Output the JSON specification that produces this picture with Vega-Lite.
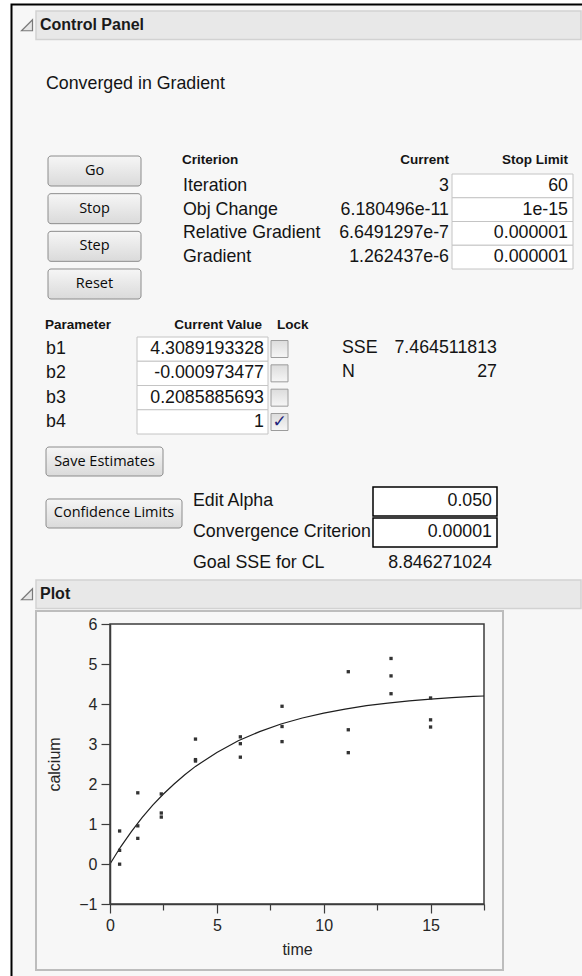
{
"$schema":"https://vega.github.io/schema/vega-lite/v6.json",
"width":374,"height":280,
"autosize":{"type":"none"},
"padding":{"left":110,"top":624,"right":98,"bottom":72},
"background":"#ffffff",
"config":{"font":"Liberation Sans","view":{"stroke":null},"text":{"baseline":"middle","color":"#141414","fontSize":17.8}},
"datasets":{
"report":[{"report":"Nonlinear Fit"}],
"sections":[{"section":"Control Panel"},{"section":"Plot"}],
"status":[{"status":"Converged in Gradient"}],
"buttons":[{"button":"Go"},{"button":"Stop"},{"button":"Step"},{"button":"Reset"}],
"actions":[{"action":"Save Estimates"},{"action":"Confidence Limits"}],
"criteriaColumns":[{"column":"Criterion"},{"column":"Current"},{"column":"Stop Limit"}],
"criteria":[{"criterion":"Iteration","current":"3","stopLimit":"60"},{"criterion":"Obj Change","current":"6.180496e-11","stopLimit":"1e-15"},{"criterion":"Relative Gradient","current":"6.6491297e-7","stopLimit":"0.000001"},{"criterion":"Gradient","current":"1.262437e-6","stopLimit":"0.000001"}],
"parameterColumns":[{"column":"Parameter"},{"column":"Current Value"},{"column":"Lock"}],
"parameters":[{"parameter":"b1","value":"4.3089193328","locked":false},{"parameter":"b2","value":"-0.000973477","locked":false},{"parameter":"b3","value":"0.2085885693","locked":false},{"parameter":"b4","value":"1","locked":true}],
"fitStats":[{"stat":"SSE","value":"7.464511813"},{"stat":"N","value":"27"}],
"clSettings":[{"setting":"Edit Alpha","value":"0.050","editable":true},{"setting":"Convergence Criterion","value":"0.00001","editable":true},{"setting":"Goal SSE for CL","value":"8.846271024","editable":false}],
"calcium":[
{"time":0.45,"calcium":0.3417},{"time":0.45,"calcium":-0.00438},{"time":0.45,"calcium":0.82531},
{"time":1.3,"calcium":1.77967},{"time":1.3,"calcium":0.95384},{"time":1.3,"calcium":0.6408},
{"time":2.4,"calcium":1.75136},{"time":2.4,"calcium":1.27497},{"time":2.4,"calcium":1.17332},
{"time":4.0,"calcium":3.12273},{"time":4.0,"calcium":2.60958},{"time":4.0,"calcium":2.57429},
{"time":6.1,"calcium":3.17881},{"time":6.1,"calcium":3.00782},{"time":6.1,"calcium":2.67061},
{"time":8.05,"calcium":3.05959},{"time":8.05,"calcium":3.94321},{"time":8.05,"calcium":3.43726},
{"time":11.15,"calcium":4.80735},{"time":11.15,"calcium":3.35583},{"time":11.15,"calcium":2.78309},
{"time":13.15,"calcium":5.13825},{"time":13.15,"calcium":4.70274},{"time":13.15,"calcium":4.25702},
{"time":15.0,"calcium":3.60407},{"time":15.0,"calcium":4.15029},{"time":15.0,"calcium":3.42484}],
"fit":[
{"time":0,"calcium":0.0},{"time":0.5,"calcium":0.43},{"time":1,"calcium":0.81},{"time":1.5,"calcium":1.16},{"time":2,"calcium":1.47},{"time":2.5,"calcium":1.75},{"time":3,"calcium":2.0},{"time":3.5,"calcium":2.23},{"time":4,"calcium":2.44},{"time":5,"calcium":2.79},{"time":6,"calcium":3.08},{"time":7,"calcium":3.31},{"time":8,"calcium":3.5},{"time":9,"calcium":3.65},{"time":10,"calcium":3.77},{"time":11,"calcium":3.87},{"time":12,"calcium":3.96},{"time":13,"calcium":4.02},{"time":14,"calcium":4.08},{"time":15,"calcium":4.12},{"time":16,"calcium":4.16},{"time":17,"calcium":4.19},{"time":17.5,"calcium":4.2}]
},
"resolve":{"scale":{"x":"independent","y":"independent"},"axis":{"x":"independent","y":"independent"}},
"layer":[
{"data":{"name":"report"},"mark":{"type":"rect","fill":"#f7f7f7","stroke":"#000000","strokeWidth":2},
 "encoding":{"x":{"field":"report","type":"nominal","scale":{"type":"band","range":[-98.5,490],"paddingInner":0,"paddingOuter":0},"axis":null},
 "y":{"field":"report","type":"nominal","scale":{"type":"band","range":[-619.5,376],"paddingInner":0,"paddingOuter":0},"axis":null}}},
{"data":{"name":"sections"},"mark":{"type":"rect","fill":"#e8e8e8","stroke":"#d2d2d2","strokeWidth":1.5},
 "encoding":{"x":{"datum":"bar","type":"nominal","scale":{"type":"band","range":[-74,471],"paddingInner":0,"paddingOuter":0},"axis":null},
 "y":{"field":"section","type":"nominal","scale":{"type":"band","domain":["Control Panel","Plot"],"range":[-613,-15.5],"paddingInner":0.94991,"paddingOuter":0},"axis":null}}},
{"data":{"name":"sections"},"mark":{"type":"point","shape":"M -1 1 L 1 1 L 1 -1 Z","size":121,"filled":true,"fill":"#e6e6e6","stroke":"#7a7a7a","strokeWidth":1.2,"opacity":1},
 "encoding":{"x":{"datum":"icon","type":"nominal","bandPosition":0.5,"scale":{"type":"band","range":[-89,-77],"paddingInner":0,"paddingOuter":0},"axis":null},
 "y":{"field":"section","type":"nominal","bandPosition":0.5,"scale":{"type":"band","domain":["Control Panel","Plot"],"range":[-613,-15.5],"paddingInner":0.94991,"paddingOuter":0},"axis":null}}},
{"data":{"name":"sections"},"mark":{"type":"text","align":"left","fontSize":16,"fontWeight":"bold","color":"#1a1a1a"},
 "encoding":{"text":{"field":"section","type":"nominal"},
 "x":{"datum":"title","type":"nominal","bandPosition":0,"scale":{"type":"band","range":[-70,190],"paddingInner":0,"paddingOuter":0},"axis":null},
 "y":{"field":"section","type":"nominal","bandPosition":0.5,"scale":{"type":"band","domain":["Control Panel","Plot"],"range":[-613,-15.5],"paddingInner":0.94991,"paddingOuter":0},"axis":null}}},
{"data":{"name":"sections"},"transform":[{"filter":"datum.section === 'Plot'"}],"mark":{"type":"rect","fill":"#f7f7f7","stroke":"#bdbdbd","strokeWidth":2},
 "encoding":{"x":{"field":"section","type":"nominal","scale":{"type":"band","range":[-74,393],"paddingInner":0,"paddingOuter":0},"axis":null},
 "y":{"field":"section","type":"nominal","scale":{"type":"band","range":[-13,346],"paddingInner":0,"paddingOuter":0},"axis":null}}},
{"data":{"name":"sections"},"transform":[{"filter":"datum.section === 'Plot'"}],"mark":{"type":"rect","fill":"#ffffff","stroke":"#3c3c3c","strokeWidth":1.5},
 "encoding":{"x":{"field":"section","type":"nominal","scale":{"type":"band","range":[0,374],"paddingInner":0,"paddingOuter":0},"axis":null},
 "y":{"field":"section","type":"nominal","scale":{"type":"band","range":[0,280],"paddingInner":0,"paddingOuter":0},"axis":null}}},
{"data":{"name":"status"},"mark":{"type":"text","align":"left"},
 "encoding":{"text":{"field":"status","type":"nominal"},
 "x":{"datum":"status","type":"nominal","bandPosition":0,"scale":{"type":"band","range":[-64,190],"paddingInner":0,"paddingOuter":0},"axis":null},
 "y":{"field":"status","type":"nominal","bandPosition":0.5,"scale":{"type":"band","range":[-552,-528],"paddingInner":0,"paddingOuter":0},"axis":null}}},
{"data":{"name":"buttons"},"mark":{"type":"rect","cornerRadius":3,"stroke":"#8c8c8c","strokeWidth":1,"fill":{"gradient":"linear","x1":0,"y1":0,"x2":0,"y2":1,"stops":[{"offset":0,"color":"#f6f6f6"},{"offset":1,"color":"#dadada"}]}},
 "encoding":{"x":{"datum":"run","type":"nominal","scale":{"type":"band","range":[-62,31],"paddingInner":0,"paddingOuter":0},"axis":null},
 "y":{"field":"button","type":"nominal","scale":{"type":"band","domain":["Go","Stop","Step","Reset"],"range":[-468,-325],"paddingInner":0.2035,"paddingOuter":0},"axis":null}}},
{"data":{"name":"buttons"},"mark":{"type":"text","align":"center","font":"Open Sans","fontSize":14.5,"color":"#0a0a0a"},
 "encoding":{"text":{"field":"button","type":"nominal"},
 "x":{"datum":"run","type":"nominal","bandPosition":0.5,"scale":{"type":"band","range":[-62,31],"paddingInner":0,"paddingOuter":0},"axis":null},
 "y":{"field":"button","type":"nominal","bandPosition":0.5,"scale":{"type":"band","domain":["Go","Stop","Step","Reset"],"range":[-468,-325],"paddingInner":0.2035,"paddingOuter":0},"axis":null}}},
{"data":{"name":"actions"},"transform":[{"filter":"datum.action === 'Save Estimates'"}],"mark":{"type":"rect","cornerRadius":3,"stroke":"#8c8c8c","strokeWidth":1,"fill":{"gradient":"linear","x1":0,"y1":0,"x2":0,"y2":1,"stops":[{"offset":0,"color":"#f6f6f6"},{"offset":1,"color":"#dadada"}]}},
 "encoding":{"x":{"datum":"save","type":"nominal","scale":{"type":"band","range":[-64,53],"paddingInner":0,"paddingOuter":0},"axis":null},
 "y":{"field":"action","type":"nominal","scale":{"type":"band","domain":["Save Estimates","Confidence Limits"],"range":[-177,-96],"paddingInner":0.4423,"paddingOuter":0},"axis":null}}},
{"data":{"name":"actions"},"transform":[{"filter":"datum.action === 'Save Estimates'"}],"mark":{"type":"text","align":"center","font":"Open Sans","fontSize":14.5,"color":"#0a0a0a"},
 "encoding":{"text":{"field":"action","type":"nominal"},
 "x":{"datum":"save","type":"nominal","bandPosition":0.5,"scale":{"type":"band","range":[-64,53],"paddingInner":0,"paddingOuter":0},"axis":null},
 "y":{"field":"action","type":"nominal","bandPosition":0.5,"scale":{"type":"band","domain":["Save Estimates","Confidence Limits"],"range":[-177,-96],"paddingInner":0.4423,"paddingOuter":0},"axis":null}}},
{"data":{"name":"actions"},"transform":[{"filter":"datum.action === 'Confidence Limits'"}],"mark":{"type":"rect","cornerRadius":3,"stroke":"#8c8c8c","strokeWidth":1,"fill":{"gradient":"linear","x1":0,"y1":0,"x2":0,"y2":1,"stops":[{"offset":0,"color":"#f6f6f6"},{"offset":1,"color":"#dadada"}]}},
 "encoding":{"x":{"datum":"cl","type":"nominal","scale":{"type":"band","range":[-64,72],"paddingInner":0,"paddingOuter":0},"axis":null},
 "y":{"field":"action","type":"nominal","scale":{"type":"band","domain":["Save Estimates","Confidence Limits"],"range":[-177,-96],"paddingInner":0.4423,"paddingOuter":0},"axis":null}}},
{"data":{"name":"actions"},"transform":[{"filter":"datum.action === 'Confidence Limits'"}],"mark":{"type":"text","align":"center","font":"Open Sans","fontSize":14.5,"color":"#0a0a0a"},
 "encoding":{"text":{"field":"action","type":"nominal"},
 "x":{"datum":"cl","type":"nominal","bandPosition":0.5,"scale":{"type":"band","range":[-64,72],"paddingInner":0,"paddingOuter":0},"axis":null},
 "y":{"field":"action","type":"nominal","bandPosition":0.5,"scale":{"type":"band","domain":["Save Estimates","Confidence Limits"],"range":[-177,-96],"paddingInner":0.4423,"paddingOuter":0},"axis":null}}},
{"data":{"name":"criteriaColumns"},"transform":[{"filter":"datum.column === 'Criterion'"}],"mark":{"type":"text","align":"left","fontSize":13.5,"fontWeight":"bold"},
 "encoding":{"text":{"field":"column","type":"nominal"},
 "x":{"datum":"c","type":"nominal","bandPosition":0,"scale":{"type":"band","range":[72,220],"paddingInner":0,"paddingOuter":0},"axis":null},
 "y":{"datum":"header","type":"nominal","bandPosition":0.5,"scale":{"type":"band","range":[-472,-456],"paddingInner":0,"paddingOuter":0},"axis":null}}},
{"data":{"name":"criteriaColumns"},"transform":[{"filter":"datum.column !== 'Criterion'"}],"mark":{"type":"text","align":"right","fontSize":13.5,"fontWeight":"bold"},
 "encoding":{"text":{"field":"column","type":"nominal"},
 "x":{"field":"column","type":"nominal","scale":{"type":"point","domain":["Current","Stop Limit"],"range":[339,458],"padding":0},"axis":null},
 "y":{"datum":"header","type":"nominal","bandPosition":0.5,"scale":{"type":"band","range":[-472,-456],"paddingInner":0,"paddingOuter":0},"axis":null}}},
{"data":{"name":"criteria"},"mark":{"type":"rect","fill":"#ffffff","stroke":"#c4c4c4","strokeWidth":1},
 "encoding":{"x":{"datum":"stop","type":"nominal","scale":{"type":"band","range":[342,463],"paddingInner":0,"paddingOuter":0},"axis":null},
 "y":{"field":"criterion","type":"nominal","scale":{"type":"band","domain":["Iteration","Obj Change","Relative Gradient","Gradient"],"range":[-450,-355],"paddingInner":0,"paddingOuter":0},"axis":null}}},
{"data":{"name":"criteria"},"mark":{"type":"text","align":"left"},
 "encoding":{"text":{"field":"criterion","type":"nominal"},
 "x":{"datum":"c","type":"nominal","bandPosition":0,"scale":{"type":"band","range":[73,220],"paddingInner":0,"paddingOuter":0},"axis":null},
 "y":{"field":"criterion","type":"nominal","scale":{"type":"point","domain":["Iteration","Obj Change","Relative Gradient","Gradient"],"range":[-438,-367],"padding":0},"axis":null}}},
{"data":{"name":"criteria"},"mark":{"type":"text","align":"right"},
 "encoding":{"text":{"field":"current","type":"nominal"},
 "x":{"datum":"c","type":"nominal","bandPosition":1,"scale":{"type":"band","range":[100,339],"paddingInner":0,"paddingOuter":0},"axis":null},
 "y":{"field":"criterion","type":"nominal","scale":{"type":"point","domain":["Iteration","Obj Change","Relative Gradient","Gradient"],"range":[-438,-367],"padding":0},"axis":null}}},
{"data":{"name":"criteria"},"mark":{"type":"text","align":"right"},
 "encoding":{"text":{"field":"stopLimit","type":"nominal"},
 "x":{"datum":"c","type":"nominal","bandPosition":1,"scale":{"type":"band","range":[342,458],"paddingInner":0,"paddingOuter":0},"axis":null},
 "y":{"field":"criterion","type":"nominal","scale":{"type":"point","domain":["Iteration","Obj Change","Relative Gradient","Gradient"],"range":[-438,-367],"padding":0},"axis":null}}},
{"data":{"name":"parameterColumns"},"transform":[{"filter":"datum.column !== 'Current Value'"}],"mark":{"type":"text","align":"left","fontSize":13.5,"fontWeight":"bold"},
 "encoding":{"text":{"field":"column","type":"nominal"},
 "x":{"field":"column","type":"nominal","scale":{"type":"point","domain":["Parameter","Lock"],"range":[-65,167],"padding":0},"axis":null},
 "y":{"datum":"header","type":"nominal","bandPosition":0.5,"scale":{"type":"band","range":[-307,-291],"paddingInner":0,"paddingOuter":0},"axis":null}}},
{"data":{"name":"parameterColumns"},"transform":[{"filter":"datum.column === 'Current Value'"}],"mark":{"type":"text","align":"right","fontSize":13.5,"fontWeight":"bold"},
 "encoding":{"text":{"field":"column","type":"nominal"},
 "x":{"datum":"c","type":"nominal","bandPosition":1,"scale":{"type":"band","range":[0,152],"paddingInner":0,"paddingOuter":0},"axis":null},
 "y":{"datum":"header","type":"nominal","bandPosition":0.5,"scale":{"type":"band","range":[-307,-291],"paddingInner":0,"paddingOuter":0},"axis":null}}},
{"data":{"name":"parameters"},"mark":{"type":"text","align":"left"},
 "encoding":{"text":{"field":"parameter","type":"nominal"},
 "x":{"datum":"c","type":"nominal","bandPosition":0,"scale":{"type":"band","range":[-64,20],"paddingInner":0,"paddingOuter":0},"axis":null},
 "y":{"field":"parameter","type":"nominal","scale":{"type":"point","domain":["b1","b2","b3","b4"],"range":[-275,-202],"padding":0},"axis":null}}},
{"data":{"name":"parameters"},"mark":{"type":"rect","fill":"#ffffff","stroke":"#c4c4c4","strokeWidth":1},
 "encoding":{"x":{"datum":"box","type":"nominal","scale":{"type":"band","range":[27,158],"paddingInner":0,"paddingOuter":0},"axis":null},
 "y":{"field":"parameter","type":"nominal","scale":{"type":"band","domain":["b1","b2","b3","b4"],"range":[-287,-190],"paddingInner":0,"paddingOuter":0},"axis":null}}},
{"data":{"name":"parameters"},"mark":{"type":"text","align":"right"},
 "encoding":{"text":{"field":"value","type":"nominal"},
 "x":{"datum":"c","type":"nominal","bandPosition":1,"scale":{"type":"band","range":[27,154],"paddingInner":0,"paddingOuter":0},"axis":null},
 "y":{"field":"parameter","type":"nominal","scale":{"type":"point","domain":["b1","b2","b3","b4"],"range":[-275,-202],"padding":0},"axis":null}}},
{"data":{"name":"parameters"},"mark":{"type":"rect","stroke":"#9c9c9c","strokeWidth":1,"fill":{"gradient":"linear","x1":0,"y1":0,"x2":0,"y2":1,"stops":[{"offset":0,"color":"#dcdcdc"},{"offset":1,"color":"#f6f6f6"}]}},
 "encoding":{"x":{"datum":"lock","type":"nominal","scale":{"type":"band","range":[161,178],"paddingInner":0,"paddingOuter":0},"axis":null},
 "y":{"field":"parameter","type":"nominal","scale":{"type":"band","domain":["b1","b2","b3","b4"],"range":[-283.5,-193.5],"paddingInner":0.3014,"paddingOuter":0},"axis":null}}},
{"data":{"name":"parameters"},"transform":[{"filter":"datum.locked"}],"mark":{"type":"text","align":"center","font":"DejaVu Sans","fontSize":17,"fontWeight":"bold","color":"#23237a"},
 "encoding":{"text":{"value":"✓"},
 "x":{"datum":"lock","type":"nominal","bandPosition":0.5,"scale":{"type":"band","range":[161,178],"paddingInner":0,"paddingOuter":0},"axis":null},
 "y":{"field":"parameter","type":"nominal","bandPosition":0.5,"scale":{"type":"band","domain":["b1","b2","b3","b4"],"range":[-283.5,-193.5],"paddingInner":0.3014,"paddingOuter":0},"axis":null}}},
{"data":{"name":"fitStats"},"mark":{"type":"text","align":"left"},
 "encoding":{"text":{"field":"stat","type":"nominal"},
 "x":{"datum":"c","type":"nominal","bandPosition":0,"scale":{"type":"band","range":[232,380],"paddingInner":0,"paddingOuter":0},"axis":null},
 "y":{"field":"stat","type":"nominal","scale":{"type":"point","domain":["SSE","N"],"range":[-276,-252],"padding":0},"axis":null}}},
{"data":{"name":"fitStats"},"mark":{"type":"text","align":"right"},
 "encoding":{"text":{"field":"value","type":"nominal"},
 "x":{"datum":"c","type":"nominal","bandPosition":1,"scale":{"type":"band","range":[232,387],"paddingInner":0,"paddingOuter":0},"axis":null},
 "y":{"field":"stat","type":"nominal","scale":{"type":"point","domain":["SSE","N"],"range":[-276,-252],"padding":0},"axis":null}}},
{"data":{"name":"clSettings"},"mark":{"type":"text","align":"left"},
 "encoding":{"text":{"field":"setting","type":"nominal"},
 "x":{"datum":"c","type":"nominal","bandPosition":0,"scale":{"type":"band","range":[83,250],"paddingInner":0,"paddingOuter":0},"axis":null},
 "y":{"field":"setting","type":"nominal","scale":{"type":"point","domain":["Edit Alpha","Convergence Criterion","Goal SSE for CL"],"range":[-123,-61],"padding":0},"axis":null}}},
{"data":{"name":"clSettings"},"transform":[{"filter":"datum.editable"}],"mark":{"type":"rect","fill":"#ffffff","stroke":"#000000","strokeWidth":1.5},
 "encoding":{"x":{"datum":"box","type":"nominal","scale":{"type":"band","range":[263,387],"paddingInner":0,"paddingOuter":0},"axis":null},
 "y":{"field":"setting","type":"nominal","scale":{"type":"band","domain":["Edit Alpha","Convergence Criterion"],"range":[-137,-77],"paddingInner":0.0645,"paddingOuter":0},"axis":null}}},
{"data":{"name":"clSettings"},"mark":{"type":"text","align":"right"},
 "encoding":{"text":{"field":"value","type":"nominal"},
 "x":{"datum":"c","type":"nominal","bandPosition":1,"scale":{"type":"band","range":[263,382],"paddingInner":0,"paddingOuter":0},"axis":null},
 "y":{"field":"setting","type":"nominal","scale":{"type":"point","domain":["Edit Alpha","Convergence Criterion","Goal SSE for CL"],"range":[-123,-61],"padding":0},"axis":null}}},
{"encoding":{
  "x":{"field":"time","type":"quantitative","scale":{"domain":[0,17.5],"nice":false,"zero":false},
   "axis":{"orient":"bottom","values":[0,2.5,5,7.5,10,12.5,15,17.5],"labelExpr":"datum.value % 5 === 0 ? datum.label : ''","title":"time","grid":false,"domainColor":"#3c3c3c","domainWidth":1.5,"tickColor":"#3c3c3c","tickWidth":1.2,"tickSize":{"condition":{"test":"datum.value % 5 === 0","value":9},"value":6},"labelPadding":4,"labelFontSize":16,"labelColor":"#262626","labelOverlap":false,"labelBound":false,"labelFlush":false,"titleFontSize":16,"titleFontWeight":"normal","titleColor":"#262626","titlePadding":8,"zindex":1}},
  "y":{"field":"calcium","type":"quantitative","scale":{"domain":[-1,6],"nice":false,"zero":false},
   "axis":{"orient":"left","values":[-1,0,1,2,3,4,5,6],"tickCount":8,"title":"calcium","grid":false,"domainColor":"#3c3c3c","domainWidth":1.5,"tickColor":"#3c3c3c","tickWidth":1.2,"tickSize":9,"labelPadding":4,"labelFontSize":16,"labelColor":"#262626","labelOverlap":false,"labelBound":false,"labelFlush":false,"titleFontSize":16,"titleFontWeight":"normal","titleColor":"#262626","titlePadding":16,"zindex":1}}},
 "layer":[
 {"data":{"name":"fit"},"mark":{"type":"line","color":"#1e1e1e","strokeWidth":1.2}},
 {"data":{"name":"calcium"},"mark":{"type":"point","shape":"square","filled":true,"size":11,"color":"#333333","opacity":1}}
]}
]
}
